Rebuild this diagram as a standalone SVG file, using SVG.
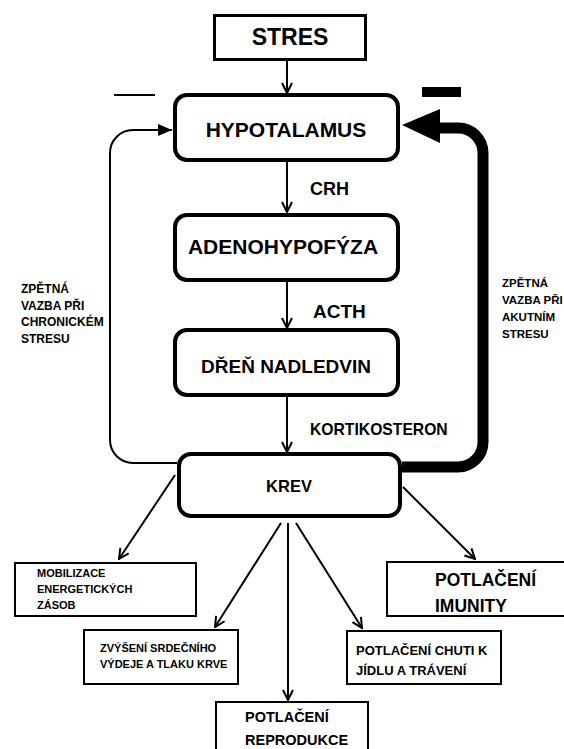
<svg xmlns="http://www.w3.org/2000/svg" width="564" height="749" viewBox="0 0 564 749">
<style>
text{font-family:"Liberation Sans",Arial,sans-serif;font-weight:bold;fill:#000}
.main{fill:#fff;stroke:#000;stroke-width:4}
.out{fill:#fff;stroke:#000;stroke-width:2}
.ln{fill:none;stroke:#000;stroke-width:2}
.c{text-anchor:middle}
</style>
<defs>
<marker id="chev" viewBox="0 0 12 12" refX="11" refY="6" markerWidth="12" markerHeight="12" markerUnits="userSpaceOnUse" orient="auto">
<path d="M1,1 L11,6 L1,11" fill="none" stroke="#000" stroke-width="2"/>
</marker>
<marker id="tri" viewBox="0 0 14 12" refX="14" refY="6" markerWidth="14" markerHeight="12" markerUnits="userSpaceOnUse" orient="auto">
<path d="M0,0 L14,6 L0,12 Z" fill="#000"/>
</marker>
</defs>
<rect width="564" height="749" fill="#fff"/>
<g id="connectors">
<line class="ln" x1="287" y1="60" x2="287" y2="93" marker-end="url(#chev)"/>
<line class="ln" x1="287" y1="162" x2="287" y2="212" marker-end="url(#chev)"/>
<line class="ln" x1="287" y1="280" x2="287" y2="328" marker-end="url(#chev)"/>
<line class="ln" x1="287" y1="397" x2="287" y2="452" marker-end="url(#chev)"/>
<path class="ln" d="M177,463 H133 A23,23 0 0 1 110,440 V153 A23,23 0 0 1 133,130 H172" marker-end="url(#tri)"/>
<path d="M402,467 H458 A25,25 0 0 0 483,442 V153 A25,25 0 0 0 458,128 H436" fill="none" stroke="#000" stroke-width="11"/>
<polygon points="402,125 440,109 440,143" fill="#000"/>
<line class="ln" x1="175" y1="475" x2="119" y2="559" stroke-width="2.5" marker-end="url(#chev)"/>
<line class="ln" x1="281" y1="523" x2="215" y2="627" stroke-width="2.5" marker-end="url(#chev)"/>
<line class="ln" x1="288" y1="523" x2="288" y2="700" marker-end="url(#chev)"/>
<line class="ln" x1="296" y1="523" x2="362" y2="628" stroke-width="2.5" marker-end="url(#chev)"/>
<line class="ln" x1="403" y1="487" x2="475" y2="559" stroke-width="2.5" marker-end="url(#chev)"/>
</g>
<g id="minus-left"><line x1="114" y1="95" x2="155" y2="95" stroke="#000" stroke-width="2"/></g>
<g id="minus-right"><rect x="422" y="87" width="39" height="10" fill="#000"/></g>
<g id="stres">
<rect x="214.5" y="15.5" width="151" height="44" fill="#fff" stroke="#000" stroke-width="3"/>
<text class="c" x="290" y="45" font-size="23">STRES</text>
</g>
<g id="hypotalamus">
<rect class="main" x="175" y="95" width="223" height="65" rx="12"/>
<text class="c" x="286" y="137" font-size="21">HYPOTALAMUS</text>
</g>
<g id="crh"><text x="310" y="195" font-size="18">CRH</text></g>
<g id="adenohypofyza">
<rect class="main" x="175" y="215" width="223" height="65" rx="12"/>
<text class="c" x="283" y="254" font-size="21">ADENOHYPOFÝZA</text>
</g>
<g id="acth"><text x="313" y="318" font-size="19">ACTH</text></g>
<g id="dren">
<rect class="main" x="175" y="330" width="223" height="65" rx="12"/>
<text class="c" x="286" y="373" font-size="19">DŘEŇ NADLEDVIN</text>
</g>
<g id="kortikosteron"><text x="310" y="435" font-size="15.7">KORTIKOSTERON</text></g>
<g id="krev">
<rect class="main" x="179" y="454" width="221" height="62" rx="12"/>
<text class="c" x="289" y="492" font-size="16.5">KREV</text>
</g>
<g id="chronic-label">
<text x="21" y="293" font-size="12">ZPĚTNÁ</text>
<text x="21" y="310" font-size="12">VAZBA PŘI</text>
<text x="21" y="326" font-size="12">CHRONICKÉM</text>
<text x="21" y="343" font-size="12">STRESU</text>
</g>
<g id="acute-label">
<text x="502" y="287" font-size="11.5">ZPĚTNÁ</text>
<text x="502" y="304" font-size="11.5">VAZBA PŘI</text>
<text x="502" y="321" font-size="11.5">AKUTNÍM</text>
<text x="502" y="338" font-size="11.5">STRESU</text>
</g>
<g id="mobilizace">
<rect class="out" x="15" y="563" width="181" height="53"/>
<text x="37" y="577" font-size="11">MOBILIZACE</text>
<text x="37" y="593" font-size="11">ENERGETICKÝCH</text>
<text x="37" y="609" font-size="11">ZÁSOB</text>
</g>
<g id="srdce">
<rect class="out" x="84" y="630" width="154" height="54"/>
<text x="100" y="652" font-size="11">ZVÝŠENÍ SRDEČNÍHO</text>
<text x="100" y="668" font-size="11">VÝDEJE A TLAKU KRVE</text>
</g>
<g id="reprodukce">
<rect class="out" x="216" y="702" width="152" height="60"/>
<text x="245" y="722" font-size="14.5">POTLAČENÍ</text>
<text x="245" y="745" font-size="14.5">REPRODUKCE</text>
</g>
<g id="chut">
<rect class="out" x="347" y="631" width="154" height="53"/>
<text x="356" y="655" font-size="13">POTLAČENÍ CHUTI K</text>
<text x="356" y="675" font-size="13">JÍDLU A TRÁVENÍ</text>
</g>
<g id="imunita">
<rect class="out" x="387" y="562" width="190" height="54"/>
<text x="435" y="586" font-size="17.5">POTLAČENÍ</text>
<text x="435" y="612" font-size="17.5">IMUNITY</text>
</g>
</svg>
